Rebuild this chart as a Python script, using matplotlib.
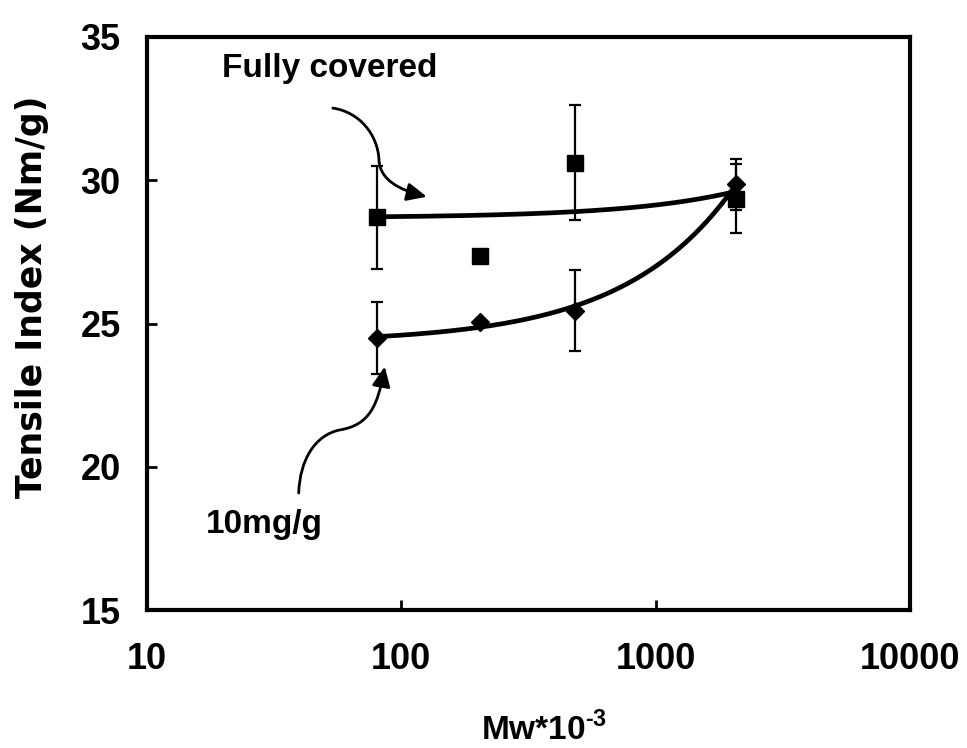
import numpy as np
import matplotlib
matplotlib.use("Agg")
import matplotlib.pyplot as plt
from matplotlib.path import Path
from matplotlib.patches import FancyArrowPatch

plt.rcParams['font.family'] = ['Liberation Sans', 'DejaVu Sans']
plt.rcParams['font.weight'] = 'bold'
plt.rcParams['mathtext.fontset'] = 'custom'
plt.rcParams['mathtext.rm'] = 'Liberation Sans:bold'
plt.rcParams['mathtext.bf'] = 'Liberation Sans:bold'

# molecular weight (Mw * 10^-3)
mw = [80, 204, 481, 2065]

# fully covered surface
full_y = [28.7, 27.35, 30.6, 29.35]
full_err = [1.8, 0.0, 2.0, 1.2]

# 10 mg/g addition
dose_y = [24.5, 25.05, 25.45, 29.85]
dose_err = [1.25, 0.0, 1.4, 0.9]

# annotation arrows (bezier vertices, data coords)
full_arrow = [(53.8, 32.51), (68.7, 32.37), (80.9, 31.57), (81.7, 30.70),
              (82.4, 30.0), (98.6, 29.65), (126.0, 29.42)]
dose_arrow = [(39.5, 19.09), (39.9, 20.24), (45.7, 21.11), (57.3, 21.29),
              (75.2, 21.46), (80.9, 22.16), (86.1, 23.5)]

fig = plt.figure(figsize=(9.67, 7.48), dpi=100)
ax = fig.add_axes([0.152, 0.184, 0.789, 0.767])

x = np.array(mw, dtype=float)
xs = np.geomspace(x.min(), x.max(), 200)

for y, err, marker, ms in [(full_y, full_err, 's', 12), (dose_y, dose_err, 'D', 9.5)]:
    y = np.array(y)
    # linear trend line in Mw
    k, b = np.polyfit(x, y, 1)
    ax.plot(xs, k * xs + b, color='black', lw=3.4, solid_capstyle='round', zorder=2)
    ax.errorbar(x, y, yerr=err, fmt=marker, color='black', ms=ms,
                elinewidth=1.6, capsize=4.5, capthick=1.6, zorder=3)

codes = [Path.MOVETO] + [Path.CURVE4] * 6
for pts in (full_arrow, dose_arrow):
    arr = FancyArrowPatch(path=Path(pts, codes), arrowstyle='-|>,head_length=12,head_width=5.5',
                          color='black', lw=2, transform=ax.transData, zorder=4)
    ax.add_patch(arr)

ax.text(52.1, 33.9, 'Fully covered', fontsize=24, fontweight='bold', ha='center', va='center')
ax.text(28.8, 17.98, '10mg/g', fontsize=24, fontweight='bold', ha='center', va='center')

ax.set_xscale('log')
ax.set_xlim(10, 10000)
ax.set_ylim(15, 35)
ax.set_yticks([15, 20, 25, 30, 35])
ax.set_xticks([10, 100, 1000, 10000])
ax.set_xticklabels(['10', '100', '1000', '10000'])
ax.xaxis.set_minor_locator(matplotlib.ticker.NullLocator())

for s in ax.spines.values():
    s.set_linewidth(3)
ax.tick_params(direction='in', length=7, width=2, labelsize=26)
ax.tick_params(axis='y', pad=19)
ax.tick_params(axis='x', pad=23)

ax.set_ylabel('Tensile Index (Nm/g)', fontsize=25, fontweight='bold', family='DejaVu Sans')
ax.yaxis.set_label_coords(-0.128, 0.546)
ax.set_xlabel(r'Mw*10$^{\text{-3}}$', fontsize=24, fontweight='bold')
ax.xaxis.label.set_va('baseline')
ax.xaxis.set_label_coords(0.52, -0.226)

fig.savefig('out.png', dpi=100)
